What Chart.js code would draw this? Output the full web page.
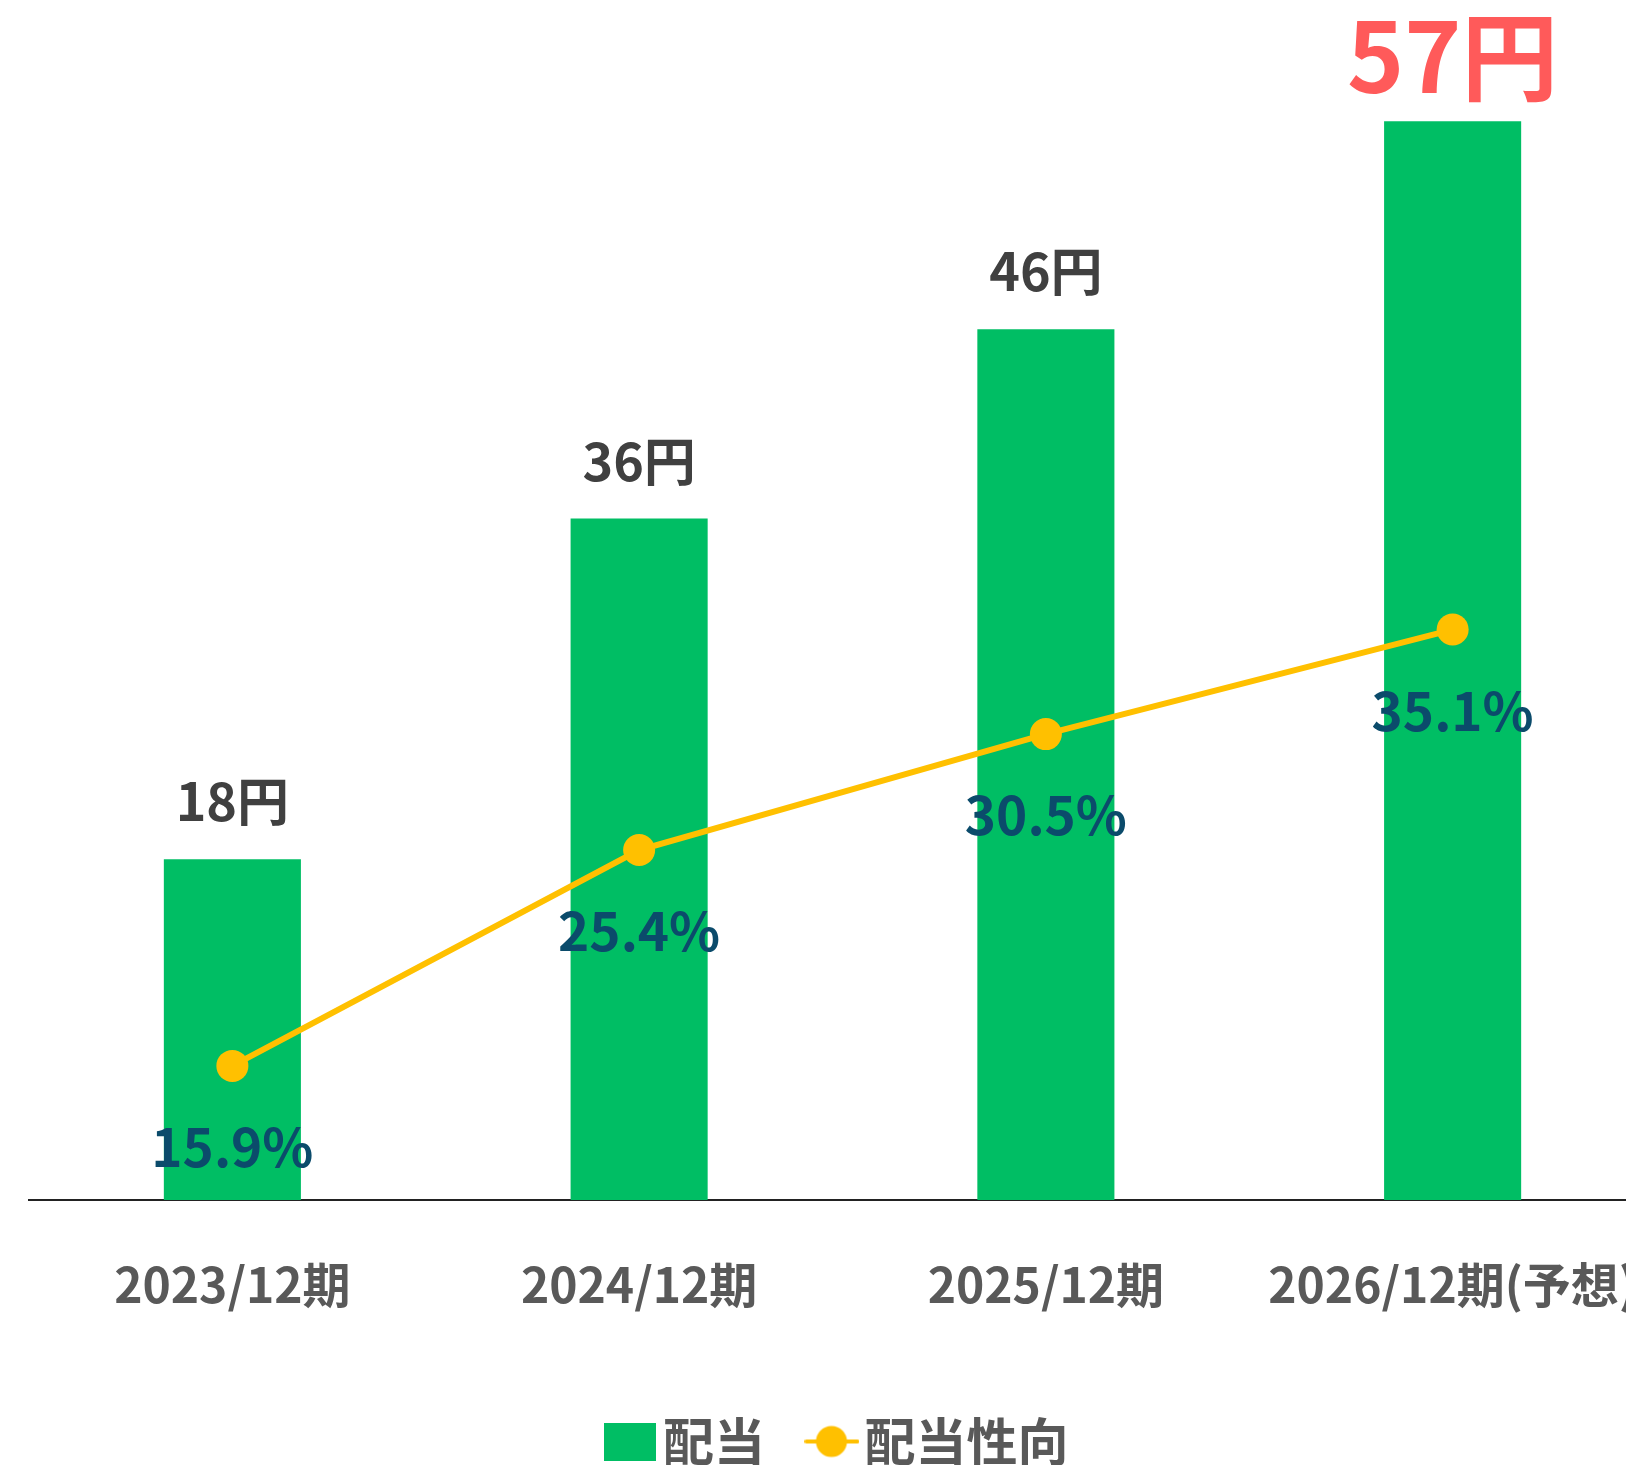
<!DOCTYPE html>
<html lang="ja">
<head>
<meta charset="utf-8">
<script src="https://cdn.jsdelivr.net/npm/chart.js@4/dist/chart.umd.min.js"></script>
<style>
  html, body { margin: 0; padding: 0; background: #fff; overflow: hidden; }
  #chart { display: block; }
</style>
</head>
<body>
<canvas id="chart" width="1656" height="1465"></canvas>
<script>
// 配当 / 配当性向 - bar + line combo
const categories = ['2023/12期', '2024/12期', '2025/12期', '2026/12期(予想)'];
const dividends = [18, 36, 46, 57];          // 円
const payoutRatios = [15.9, 25.4, 30.5, 35.1]; // %

const FONT = '"Noto Sans CJK JP", "Noto Sans", sans-serif';
const GREEN = '#00BE64';
const YELLOW = '#FFC000';

// legend markers
function rectMarker() {
    const c = document.createElement('canvas');
    c.width = 53; c.height = 38;
    const g = c.getContext('2d');
    g.fillStyle = GREEN;
    g.fillRect(0, 0, 52, 38);
    return c;
}
function lineMarker() {
    const c = document.createElement('canvas');
    c.width = 55; c.height = 34;
    const g = c.getContext('2d');
    g.strokeStyle = YELLOW; g.lineWidth = 4; g.lineCap = 'round';
    g.beginPath(); g.moveTo(2, 17); g.lineTo(53, 17); g.stroke();
    g.fillStyle = YELLOW;
    g.beginPath(); g.arc(27, 17, 15.5, 0, Math.PI * 2); g.fill();
    return c;
}

const valueLabels = {
    id: 'valueLabels',
    afterDatasetsDraw(chart) {
        const ctx = chart.ctx;
        ctx.save();
        ctx.textAlign = 'center';
        ctx.textBaseline = 'alphabetic';
        chart.getDatasetMeta(0).data.forEach((el, i) => {
            const last = i === dividends.length - 1;
            ctx.font = `bold ${last ? 97 : 52}px ${FONT}`;
            ctx.fillStyle = last ? '#FF5A5A' : '#404040';
            ctx.fillText(dividends[i] + '円', el.x, el.y - (last ? 28 : 38));
        });
        ctx.font = `bold 53px ${FONT}`;
        ctx.fillStyle = '#0B4B6B';
        chart.getDatasetMeta(1).data.forEach((el, i) => {
            ctx.fillText(payoutRatios[i].toFixed(1) + '%', el.x, el.y + 101);
        });
        ctx.restore();
    }
};

// nudge the legend row a little right and up, as in the source
const legendShift = {
    id: 'legendShift',
    afterLayout(chart) {
        const lg = chart.legend;
        lg.left += 8.5; lg.right += 8.5;
        lg.top -= 4; lg.bottom -= 4;
    }
};

const chart = new Chart(document.getElementById('chart'), {
    data: {
        labels: categories,
        datasets: [
            { type: 'bar', label: '配当', data: dividends, backgroundColor: GREEN,
              yAxisID: 'y', order: 1, categoryPercentage: 1, barPercentage: 0.337 },
            { type: 'line', label: '配当性向', data: payoutRatios, borderColor: YELLOW,
              backgroundColor: YELLOW, borderWidth: 6, pointRadius: 16, pointBorderWidth: 0,
              pointBackgroundColor: YELLOW, yAxisID: 'y2', order: 0, tension: 0 }
        ]
    },
    options: {
        responsive: false, animation: false, devicePixelRatio: 1,
        layout: { autoPadding: false, padding: { top: 0, right: 0, left: 19, bottom: -16 } },
        plugins: {
            tooltip: { enabled: false },
            legend: {
                position: 'bottom',
                labels: {
                    usePointStyle: true, pointStyleWidth: 14, padding: 60,
                    color: '#595959', font: { family: FONT, size: 51, weight: 'bold' },
                    generateLabels: () => [
                        { text: '配当', pointStyle: rectMarker(), fillStyle: GREEN, strokeStyle: GREEN, lineWidth: 0, datasetIndex: 0, fontColor: '#595959' },
                        { text: '配当性向', pointStyle: lineMarker(), fillStyle: YELLOW, strokeStyle: YELLOW, lineWidth: 0, datasetIndex: 1, fontColor: '#595959' }
                    ]
                }
            }
        },
        scales: {
            x: {
                grid: { display: false },
                border: { display: true, color: '#222', width: 2 },
                ticks: { color: '#595959', padding: 48, font: { family: FONT, size: 48, weight: 'bold' }, maxRotation: 0, autoSkip: false },
                afterFit: s => { s.height = 160; s.paddingLeft = 0; s.paddingRight = 0; }
            },
            y: {
                min: 0, max: 63.4,
                grid: { display: false }, border: { display: false },
                ticks: { display: false },
                afterFit: s => { s.width = 10; }
            },
            y2: {
                position: 'right', display: false, min: 10, max: 62.8
            }
        }
    },
    plugins: [valueLabels, legendShift]
});
</script>
</body>
</html>
